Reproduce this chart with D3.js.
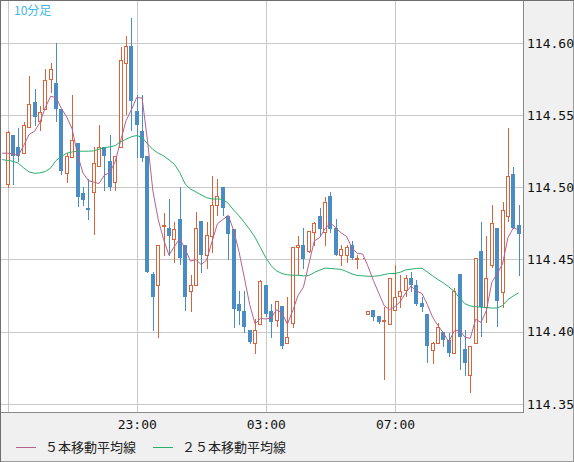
<!DOCTYPE html>
<html>
<head>
<meta charset="utf-8">
<script src="https://cdn.jsdelivr.net/npm/d3@7"></script>
<style>
  html, body { margin: 0; padding: 0; background: #f0f0f0; }
  svg { display: block; }
</style>
</head>
<body>
<div id="chart"></div>
<script>
// USD/JPY 10分足 candles (19:00 -> 10:50)

const open = [
  114.502,114.536,114.528,114.524,114.542,114.559,114.546,114.554,114.575,114.572,
  114.554,114.510,114.521,114.531,114.496,114.486,114.497,114.515,114.528,114.518,
  114.504,114.528,114.586,114.598,114.553,114.539,114.522,114.440,114.432,114.473,
  114.472,114.464,114.478,114.460,114.428,114.432,114.477,114.453,114.466,114.488,
  114.500,114.480,114.471,114.419,114.414,114.401,114.392,114.405,114.432,114.414,
  114.408,114.418,114.392,114.406,114.459,114.460,114.456,114.469,114.480,114.469,
  114.494,114.472,114.453,114.453,114.460,114.4505,114.4508,114.4125,114.415,114.411,
  114.4074,114.405,114.415,114.425,114.429,114.437,114.432,114.420,114.412,114.3875,
  114.392,114.400,114.394,114.385,114.440,114.388,114.370,114.392,114.456,114.417,
  114.4465,114.4715,114.4275,114.480,114.509,114.474
];
const high = [
  114.539,114.536,114.541,114.545,114.577,114.568,114.556,114.582,114.586,114.600,
  114.554,114.524,114.564,114.531,114.500,114.506,114.528,114.543,114.528,114.536,
  114.522,114.597,114.605,114.617,114.564,114.564,114.522,114.441,114.460,114.482,
  114.492,114.476,114.500,114.460,114.439,114.483,114.477,114.476,114.508,114.506,
  114.500,114.480,114.471,114.428,114.428,114.401,114.409,114.436,114.432,114.419,
  114.421,114.418,114.424,114.459,114.466,114.472,114.470,114.476,114.486,114.493,
  114.497,114.478,114.460,114.460,114.463,114.453,114.451,114.414,114.415,114.411,
  114.417,114.4375,114.446,114.439,114.439,114.441,114.436,114.424,114.412,114.393,
  114.406,114.400,114.399,114.430,114.440,114.401,114.390,114.451,114.476,114.466,
  114.488,114.4715,114.4896,114.541,114.514,114.488
];
const low = [
  114.500,114.502,114.518,114.524,114.542,114.543,114.540,114.554,114.566,114.546,
  114.509,114.504,114.521,114.487,114.488,114.478,114.468,114.515,114.498,114.498,
  114.498,114.528,114.551,114.540,114.521,114.518,114.441,114.401,114.396,114.453,
  114.453,114.448,114.447,114.415,114.414,114.432,114.441,114.444,114.455,114.481,
  114.481,114.450,114.403,114.405,114.400,114.392,114.385,114.405,114.411,114.396,
  114.404,114.389,114.392,114.403,114.439,114.444,114.455,114.460,114.466,114.460,
  114.469,114.453,114.446,114.448,114.450,114.444,114.4508,114.4125,114.408,114.406,
  114.367,114.405,114.415,114.417,114.425,114.428,114.4185,114.414,114.379,114.378,
  114.392,114.390,114.383,114.385,114.374,114.370,114.358,114.392,114.397,114.407,
  114.445,114.404,114.417,114.477,114.4715,114.439
];
const close = [
  114.538,114.522,114.522,114.543,114.558,114.549,114.552,114.574,114.582,114.554,
  114.511,114.522,114.533,114.493,114.491,114.484,114.517,114.528,114.522,114.500,
  114.522,114.588,114.598,114.560,114.543,114.520,114.441,114.424,114.460,114.474,
  114.466,114.471,114.451,114.424,114.432,114.472,114.453,114.467,114.488,114.494,
  114.486,114.468,114.416,114.414,114.403,114.393,114.401,114.435,114.412,114.407,
  114.421,114.390,114.396,114.459,114.460,114.450,114.470,114.475,114.471,114.490,
  114.471,114.453,114.457,114.459,114.451,114.451,114.451,114.414,114.410,114.407,
  114.408,114.4375,114.424,114.428,114.437,114.432,114.419,114.417,114.390,114.392,
  114.403,114.394,114.385,114.428,114.396,114.378,114.390,114.451,114.417,114.4375,
  114.475,114.421,114.484,114.508,114.4715,114.468
];

// moving averages, first value is the bar just before 19:00
const ma5 = [
  114.5236,114.5236,114.5231,114.5220,114.5290,114.5366,114.5388,114.5448,114.5552,114.5630,
  114.5622,114.5546,114.5486,114.5404,114.5226,114.5100,114.5046,114.5036,114.5026,114.5084,
  114.5102,114.5178,114.5320,114.5460,114.5536,114.5622,114.5618,114.5324,114.4976,114.4776,
  114.4638,114.4530,114.4590,114.4644,114.4572,114.4488,114.4500,114.4464,114.4496,114.4624,
  114.4748,114.4776,114.4806,114.4704,114.4556,114.4374,114.4188,114.4054,114.4092,114.4088,
  114.4096,114.4152,114.4130,114.4052,114.4146,114.4252,114.4310,114.4470,114.4628,114.4652,
  114.4712,114.4754,114.4720,114.4684,114.4660,114.4582,114.4542,114.4538,114.4452,114.4354,
  114.4266,114.4180,114.4153,114.4173,114.4209,114.4269,114.4317,114.4280,114.4266,114.4190,
  114.4100,114.4042,114.3992,114.3928,114.4004,114.4012,114.3962,114.3954,114.4086,114.4064,
  114.4147,114.4341,114.4403,114.4469,114.4651,114.4719,114.4705
];
const ma25 = [
  114.5192,
  114.5185,114.5181,114.5167,114.5134,114.5106,114.5097,114.5100,114.5109,114.5134,114.5185,
  114.5213,114.5236,114.5245,114.5250,114.5250,114.5250,114.5252,114.5264,114.5275,114.5280,
  114.5289,114.5315,114.5333,114.5350,114.5359,114.5345,114.5301,114.5262,114.5236,114.5218,
  114.5190,114.5160,114.5102,114.5023,114.4988,114.4968,114.4947,114.4928,114.4919,114.4919,
  114.4917,114.4889,114.4843,114.4803,114.4757,114.4708,114.4653,114.4583,114.4512,114.4456,
  114.4421,114.4403,114.4394,114.4391,114.4391,114.4387,114.4389,114.4410,114.4426,114.4440,
  114.4438,114.4435,114.4431,114.4417,114.4400,114.4389,114.4387,114.4384,114.4384,114.4387,
  114.4396,114.4403,114.4403,114.4412,114.4428,114.4433,114.4438,114.4440,114.4414,114.4387,
  114.4361,114.4338,114.4310,114.4280,114.4234,114.4194,114.4178,114.4174,114.4169,114.4167,
  114.4164,114.4164,114.4181,114.4222,114.4248,114.4269
];

const yTicks = [114.35, 114.40, 114.45, 114.50, 114.55, 114.60];
const gridBars = [0, 24, 48, 72];      // 19:00, 23:00, 03:00, 07:00
const labelBars = [24, 48, 72];
const legendItems = ["５本移動平均線", "２５本移動平均線"];

const upColor = "#d9643c", downColor = "#4a8cc4";
const ma5Color = "#b5628c", ma25Color = "#2aae6c";

const width = 574, height = 462;
const plotW = 523, plotH = 412;

const startTime = new Date(2017, 0, 10, 19, 0);
const times = open.map((_, i) => d3.timeMinute.offset(startTime, 10 * i));
const maTimes = ma5.map((_, i) => d3.timeMinute.offset(startTime, 10 * (i - 1)));

const svg = d3.select("#chart").append("svg")
    .attr("width", width)
    .attr("height", height);

svg.append("rect")
    .attr("width", width).attr("height", height)
    .attr("fill", "#f0f0f0");

const x = d3.scaleTime()
    .domain([d3.timeSecond.offset(startTime, -848), d3.timeMinute.offset(startTime, 958)])
    .range([0, plotW]);

const y = d3.scaleLinear()
    .domain([114.35, 114.60])
    .range([403.9, 42.9]);

svg.append("clipPath").attr("id", "plotClip")
  .append("rect").attr("width", plotW).attr("height", plotH);

svg.append("rect")
    .attr("width", plotW).attr("height", plotH)
    .attr("fill", "#fff");

// grid
const grid = svg.append("g").attr("shape-rendering", "crispEdges");
grid.selectAll("line.h")
  .data(yTicks)
  .join("line")
    .attr("class", "h")
    .attr("x1", 0).attr("x2", plotW)
    .attr("y1", d => Math.round(y(d)) + 0.5)
    .attr("y2", d => Math.round(y(d)) + 0.5)
    .attr("stroke", "#c8c8c8");
grid.selectAll("line.v")
  .data(gridBars)
  .join("line")
    .attr("class", "v")
    .attr("y1", 0).attr("y2", plotH)
    .attr("x1", d => Math.round(x(times[d])) + 0.5)
    .attr("x2", d => Math.round(x(times[d])) + 0.5)
    .attr("stroke", "#c8c8c8");

const plot = svg.append("g").attr("clip-path", "url(#plotClip)");

// candles
const bars = times.map((t, i) => ({ t, o: open[i], h: high[i], l: low[i], c: close[i] }));

const candle = plot.selectAll("g.candle")
  .data(bars)
  .join("g")
    .attr("class", "candle")
    .attr("shape-rendering", "crispEdges");

candle.append("line")
    .attr("x1", d => Math.round(x(d.t)) + 0.5)
    .attr("x2", d => Math.round(x(d.t)) + 0.5)
    .attr("y1", d => Math.round(y(d.h)))
    .attr("y2", d => Math.round(y(d.l)) + 1)
    .attr("stroke", d => d.c >= d.o ? upColor : downColor);

candle.append("rect")
    .attr("x", d => d.c >= d.o ? Math.round(x(d.t)) - 1.5 : Math.round(x(d.t)) - 2)
    .attr("y", d => {
        const top = Math.round(y(Math.max(d.o, d.c)));
        return d.c >= d.o ? top + 0.5 : top;
    })
    .attr("width", d => d.c >= d.o ? 3 : 4)
    .attr("height", d => {
        const h = Math.round(y(Math.min(d.o, d.c))) - Math.round(y(Math.max(d.o, d.c)));
        return d.c >= d.o ? Math.max(h, 0) : Math.max(h, 1);
    })
    .attr("fill", d => d.c >= d.o ? "#fff" : downColor)
    .attr("stroke", d => d.c >= d.o ? upColor : "none");

// moving averages
const maLine = key => d3.line()
    .x((d, i) => x(maTimes[i]))
    .y(d => y(d));

plot.append("path")
    .datum(ma25)
    .attr("d", maLine())
    .attr("fill", "none")
    .attr("stroke", ma25Color)
    .attr("stroke-width", 1);

plot.append("path")
    .datum(ma5)
    .attr("d", maLine())
    .attr("fill", "none")
    .attr("stroke", ma5Color)
    .attr("stroke-width", 1);

// frame
const frame = svg.append("g").attr("shape-rendering", "crispEdges").attr("fill", "none");
frame.append("line").attr("x1", plotW + 0.5).attr("x2", plotW + 0.5).attr("y1", 0).attr("y2", plotH + 1).attr("stroke", "#8a8a8a");
frame.append("line").attr("x1", 0).attr("x2", plotW + 1).attr("y1", plotH + 0.5).attr("y2", plotH + 0.5).attr("stroke", "#8a8a8a");
frame.append("rect").attr("x", 0.5).attr("y", 0.5).attr("width", width - 1).attr("height", height - 1).attr("stroke", "#9a9a9a");
frame.append("line").attr("x1", 0).attr("x2", width).attr("y1", 0.5).attr("y2", 0.5).attr("stroke", "#6e6e6e");
frame.append("line").attr("x1", 0.5).attr("x2", 0.5).attr("y1", 0).attr("y2", height).attr("stroke", "#6e6e6e");

// axes
const yAxis = svg.append("g")
    .attr("transform", `translate(${plotW},0)`)
    .call(d3.axisRight(y).tickValues(yTicks).tickSize(0).tickPadding(4).tickFormat(d3.format(".2f")));
yAxis.select(".domain").remove();
yAxis.selectAll("text")
    .style("font-family", "'DejaVu Sans Mono', monospace")
    .style("font-size", "13px")
    .attr("fill", "#111");

const xAxis = svg.append("g")
    .attr("transform", `translate(0,${plotH})`)
    .call(d3.axisBottom(x).tickValues(labelBars.map(i => times[i])).tickSize(0).tickPadding(8)
        .tickFormat(d3.timeFormat("%H:%M")));
xAxis.select(".domain").remove();
xAxis.selectAll("text")
    .style("font-family", "'DejaVu Sans Mono', monospace")
    .style("font-size", "13px")
    .attr("fill", "#111");

// timeframe label
svg.append("text")
    .attr("x", 14)
    .attr("y", 15)
    .style("font-family", "'Noto Sans CJK JP', sans-serif")
    .style("font-size", "12px")
    .attr("fill", "#3db8e8")
    .text("10分足");

// legend
const legend = svg.append("g");
const legendX = [16, 153];
[ma5Color, ma25Color].forEach((col, i) => {
    legend.append("line")
        .attr("x1", legendX[i]).attr("x2", legendX[i] + 20)
        .attr("y1", 447.5).attr("y2", 447.5)
        .attr("stroke", col);
    legend.append("text")
        .attr("x", legendX[i] + 29)
        .attr("y", 452)
        .style("font-family", "'Noto Sans CJK JP', sans-serif")
        .style("font-size", "13px")
        .attr("fill", "#222")
        .text(legendItems[i]);
});
</script>
</body>
</html>
